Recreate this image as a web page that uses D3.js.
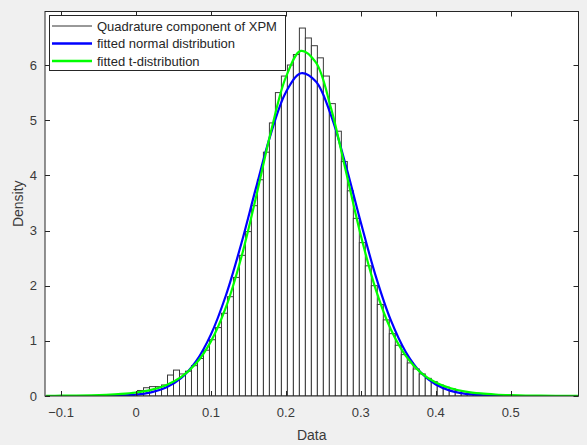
<!DOCTYPE html>
<html><head><meta charset="utf-8">
<script src="https://cdn.jsdelivr.net/npm/d3@7"></script>
<style>body{margin:0;background:#f0f0f0;} svg{display:block}</style>
</head><body><svg id="c" width="587" height="445"></svg>
<script>
// ---- data ----
const binWidth = 0.008;
const binCenters = [0.006,0.014,0.022,0.030,0.038,0.046,0.054,0.062,0.070,0.078,0.086,0.094,0.102,0.110,0.118,0.126,0.134,0.142,0.150,0.158,0.166,0.174,0.182,0.190,0.198,0.206,0.214,0.222,0.230,0.238,0.246,0.254,0.262,0.270,0.278,0.286,0.294,0.302,0.310,0.318,0.326,0.334,0.342,0.350,0.358,0.366,0.374,0.382,0.390,0.398,0.406,0.414,0.422,0.430,0.438,0.446,0.454,0.462];
const binDensity = [0.10,0.15,0.17,0.17,0.20,0.38,0.47,0.40,0.45,0.55,0.68,0.83,1.02,1.24,1.50,1.80,2.15,2.55,2.98,3.45,3.92,4.42,4.95,5.50,5.80,6.00,6.19,6.67,6.49,6.35,6.13,5.80,5.30,4.80,4.25,3.72,3.22,2.78,2.36,2.00,1.66,1.38,1.13,0.92,0.75,0.60,0.49,0.40,0.32,0.26,0.20,0.16,0.13,0.10,0.08,0.06,0.05,0.04];
const normalX = [-0.04,-0.02,0.00,0.02,0.04,0.06,0.08,0.10,0.12,0.14,0.16,0.18,0.20,0.22,0.24,0.26,0.28,0.30,0.32,0.34,0.36,0.38,0.40,0.42,0.44,0.46,0.48,0.49];
const normalY = [0.003,0.010,0.026,0.066,0.152,0.322,0.627,1.117,1.826,2.738,3.768,4.756,5.507,5.850,5.700,5.096,4.179,3.144,2.169,1.374,0.798,0.425,0.208,0.093,0.038,0.015,0.005,0.003];
const tX = [-0.12,-0.10,-0.08,-0.06,-0.04,-0.02,0.00,0.02,0.04,0.06,0.08,0.10,0.12,0.14,0.16,0.18,0.20,0.22,0.24,0.26,0.28,0.30,0.32,0.34,0.36,0.38,0.40,0.42,0.44,0.46,0.48,0.50,0.52,0.54,0.56,0.58,0.59];
const tY = [0.003,0.005,0.008,0.013,0.022,0.037,0.064,0.112,0.196,0.341,0.588,0.990,1.610,2.489,3.599,4.789,5.779,6.256,6.046,5.228,4.079,2.910,1.929,1.209,0.727,0.425,0.245,0.140,0.080,0.046,0.027,0.016,0.009,0.006,0.003,0.002,0.002];
const xTicks = [-0.1,0,0.1,0.2,0.3,0.4,0.5];
const yTicks = [0,1,2,3,4,5,6];
const legendLabels = ["Quadrature component of XPM","fitted normal distribution","fitted t-distribution"];

// ---- layout ----
const W = 587, H = 445;
const L = 45, R = 578.5, T = 11.5, B = 396;
const svg = d3.select("#c");
const x = d3.scaleLinear().domain([-0.1215, 0.5905]).range([L, R]);
const y = d3.scaleLinear().domain([0, 6.97]).range([B, T]);
const axisColor = "#262626";
const font = "'Liberation Sans', Arial, Helvetica, sans-serif";

svg.append("rect").attr("x",0).attr("y",0).attr("width",W).attr("height",H).attr("fill","#f0f0f0");
svg.append("rect").attr("x",L).attr("y",T).attr("width",R-L).attr("height",B-T).attr("fill","#fff");

svg.append("defs").append("clipPath").attr("id","clip")
  .append("rect").attr("x",L).attr("y",T).attr("width",R-L).attr("height",B-T);

const plot = svg.append("g").attr("clip-path","url(#clip)");

// histogram bars
plot.append("g").selectAll("rect").data(binCenters).join("rect")
  .attr("x", (c) => x(c - binWidth/2))
  .attr("width", (c) => x(c + binWidth/2) - x(c - binWidth/2))
  .attr("y", (c,i) => y(binDensity[i]))
  .attr("height", (c,i) => y(0) - y(binDensity[i]))
  .attr("fill", "#fff")
  .attr("stroke", "#3a3a3a")
  .attr("stroke-width", 1);

const line = d3.line().x(d => x(d[0])).y(d => y(d[1])).curve(d3.curveCatmullRom.alpha(0.5));
plot.append("path").datum(normalX.map((v,i)=>[v,normalY[i]]))
  .attr("d", line).attr("fill","none").attr("stroke","#0000ff").attr("stroke-width",2.2);
plot.append("path").datum(tX.map((v,i)=>[v,tY[i]]))
  .attr("d", line).attr("fill","none").attr("stroke","#00ff00").attr("stroke-width",2.2);

// axes box and ticks
const ax = svg.append("g");
ax.append("rect").attr("x",L).attr("y",T).attr("width",R-L).attr("height",B-T)
  .attr("fill","none").attr("stroke",axisColor).attr("stroke-width",1);
const tl = 5;
xTicks.forEach(t => {
  const px = Math.round(x(t)) + 0.5;
  ax.append("line").attr("x1",px).attr("x2",px).attr("y1",B).attr("y2",B-tl).attr("stroke",axisColor);
  ax.append("line").attr("x1",px).attr("x2",px).attr("y1",T).attr("y2",T+tl).attr("stroke",axisColor);
  ax.append("text").attr("x",x(t)).attr("y",B+21).attr("text-anchor","middle")
    .attr("font-family",font).attr("font-size",13).attr("fill","#3a3a3a").text(d3.format("")(t));
});
yTicks.forEach(t => {
  const py = Math.round(y(t)) + 0.5;
  ax.append("line").attr("x1",L).attr("x2",L+tl).attr("y1",py).attr("y2",py).attr("stroke",axisColor);
  ax.append("line").attr("x1",R).attr("x2",R-tl).attr("y1",py).attr("y2",py).attr("stroke",axisColor);
  ax.append("text").attr("x",L-8).attr("y",y(t)+4.5).attr("text-anchor","end")
    .attr("font-family",font).attr("font-size",13).attr("fill","#3a3a3a").text(t);
});
svg.append("text").attr("x",(L+R)/2).attr("y",440).attr("text-anchor","middle")
  .attr("font-family",font).attr("font-size",14).attr("fill","#3a3a3a").text("Data");
svg.append("text").attr("transform",`translate(23,${(T+B)/2}) rotate(-90)`).attr("text-anchor","middle")
  .attr("font-family",font).attr("font-size",14).attr("fill","#3a3a3a").text("Density");

// legend
const lg = svg.append("g");
lg.append("rect").attr("x",49.5).attr("y",15.5).attr("width",236).attr("height",55)
  .attr("fill","#fff").attr("stroke",axisColor).attr("stroke-width",1);
const legColors = ["#333","#0000ff","#00ff00"];
const legWidths = [1, 2.5, 2.5];
legendLabels.forEach((lab,i) => {
  const cy = 26 + i*17.5;
  lg.append("line").attr("x1",52).attr("x2",92).attr("y1",cy).attr("y2",cy)
    .attr("stroke",legColors[i]).attr("stroke-width",legWidths[i]);
  lg.append("text").attr("x",97).attr("y",cy+4.5).attr("font-family",font).attr("font-size",13)
    .attr("fill","#262626").text(lab);
});
</script></body></html>
